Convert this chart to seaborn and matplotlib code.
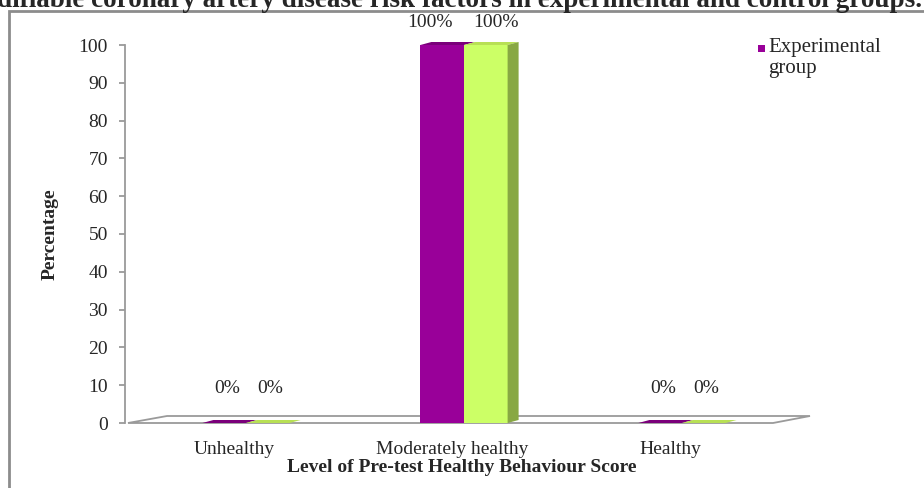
import matplotlib
matplotlib.use("Agg")
import matplotlib.pyplot as plt
import matplotlib.transforms as mtransforms
from matplotlib.patches import Polygon, Rectangle
import seaborn as sns
import pandas as pd

categories = ["Unhealthy", "Moderately healthy", "Healthy"]
experimental = [0, 100, 0]
control = [0, 100, 0]
groups = ["Experimental group", "Control group"]
y_ticks = [0, 10, 20, 30, 40, 50, 60, 70, 80, 90, 100]

purple = "#990099"
green = "#CCFF66"
green_side = "#88A843"
green_top = "#B8E055"
purple_top = "#7A007A"
grey = "#9A9A9A"

sns.set_theme(style="white")
plt.rcParams["font.family"] = ["Liberation Serif", "DejaVu Serif"]

df = pd.DataFrame({
    "Level": categories * 2,
    "Percentage": experimental + control,
    "Group": [groups[0]] * 3 + [groups[1]] * 3,
})

W, H = 924, 488
fig = plt.figure(figsize=(W / 100, H / 100), dpi=100)
ax_l, ax_r, ax_b, ax_t = 137, 791, 423, 45
ax = fig.add_axes([ax_l / W, (H - ax_b) / H, (ax_r - ax_l) / W, (ax_b - ax_t) / H])

sns.barplot(data=df, x="Level", y="Percentage", hue="Group",
            palette=[purple, green], width=0.4, ax=ax, legend=False,
            saturation=1, linewidth=0)
ax.set_xlim(-0.5, 2.5)
ax.set_ylim(0, 100)
for name, s in ax.spines.items():
    s.set_visible(name == "left")
ax.spines["left"].set_position(("outward", 9))
ax.spines["left"].set_color(grey)
ax.spines["left"].set_linewidth(1.3)
ax.set_yticks(y_ticks)
ax.tick_params(axis="y", labelsize=14, length=4, width=1.3, color=grey,
               direction="out", left=True, pad=8)
ax.tick_params(axis="x", labelsize=14, length=0, pad=13)
# category labels sit slightly left of the bars (perspective of the floor)
shift = mtransforms.ScaledTranslation(-12 / 100, 0, fig.dpi_scale_trans)
for lbl in ax.get_xticklabels():
    lbl.set_transform(lbl.get_transform() + shift)
ax.set_xlabel("Level of Pre-test Healthy Behaviour Score", fontsize=14,
              fontweight="bold")
ax.xaxis.set_label_coords((462 - ax_l) / (ax_r - ax_l), -(459 - ax_b) / (ax_b - ax_t))
ax.set_ylabel("Percentage", fontsize=14, fontweight="bold", labelpad=14)

# pixel-to-data helpers for the pseudo-3D depth
px_x = 3.0 / (ax_r - ax_l)
px_y = 100.0 / (ax_b - ax_t)
dx, dy = 11 * px_x, 3 * px_y

# floor of the chart
x_left = -0.5 - 9 * px_x
floor = Polygon([(x_left, 0), (x_left + 39 * px_x, 7 * px_y),
                 (x_left + 682 * px_x, 7 * px_y), (x_left + 645 * px_x, 0)],
                closed=True, facecolor="white", edgecolor=grey,
                linewidth=1.3, zorder=0.5, clip_on=False)
ax.add_patch(floor)

# side and top faces on each bar
bars = [p for c in ax.containers for p in c]
for i, p in enumerate(bars):
    x0, w, h = p.get_x(), p.get_width(), p.get_height()
    is_control = i >= len(categories)
    top = Polygon([(x0, h), (x0 + dx, h + dy), (x0 + w + dx, h + dy), (x0 + w, h)],
                  closed=True, facecolor=green_top if is_control else purple_top,
                  edgecolor="none", clip_on=False, zorder=3)
    ax.add_patch(top)
    if is_control and h > 0:
        side = Polygon([(x0 + w, 0), (x0 + w + dx, dy), (x0 + w + dx, h + dy), (x0 + w, h)],
                       closed=True, facecolor=green_side, edgecolor="none",
                       clip_on=False, zorder=3)
        ax.add_patch(side)

# value labels (tall-bar labels spread apart so they do not collide)
for k, cont in enumerate(ax.containers):
    for bar in cont:
        h = bar.get_height()
        nudge = (-9 if k == 0 else 7) if h > 0 else 2
        ax.annotate(f"{h:.0f}%", (bar.get_x() + bar.get_width() / 2, h),
                    xytext=(nudge, 16 if h > 0 else 25), textcoords="offset points",
                    ha="center", va="center", fontsize=14, annotation_clip=False)

# legend
fig.patches.append(Rectangle((758 / W, (H - 52) / H), 7 / W, 7 / H,
                             transform=fig.transFigure, facecolor=purple,
                             edgecolor="none"))
fig.text(768 / W, (H - 58) / H, "Experimental\ngroup", fontsize=15,
         ha="left", va="center", linespacing=1.2)

# chart frame
fig.patches.append(Rectangle((9 / W, -0.1), 1.1, 1.1 - 11 / H,
                             transform=fig.transFigure, facecolor="none",
                             edgecolor="#8C8C8C", linewidth=2))

fig.text(0.998, 1.0 - 7 / H,
         "difiable coronary artery disease risk factors in experimental and control groups.",
         ha="right", va="baseline", fontsize=19.5, fontweight="bold")

fig.savefig("out.png", dpi=100, facecolor="white")
